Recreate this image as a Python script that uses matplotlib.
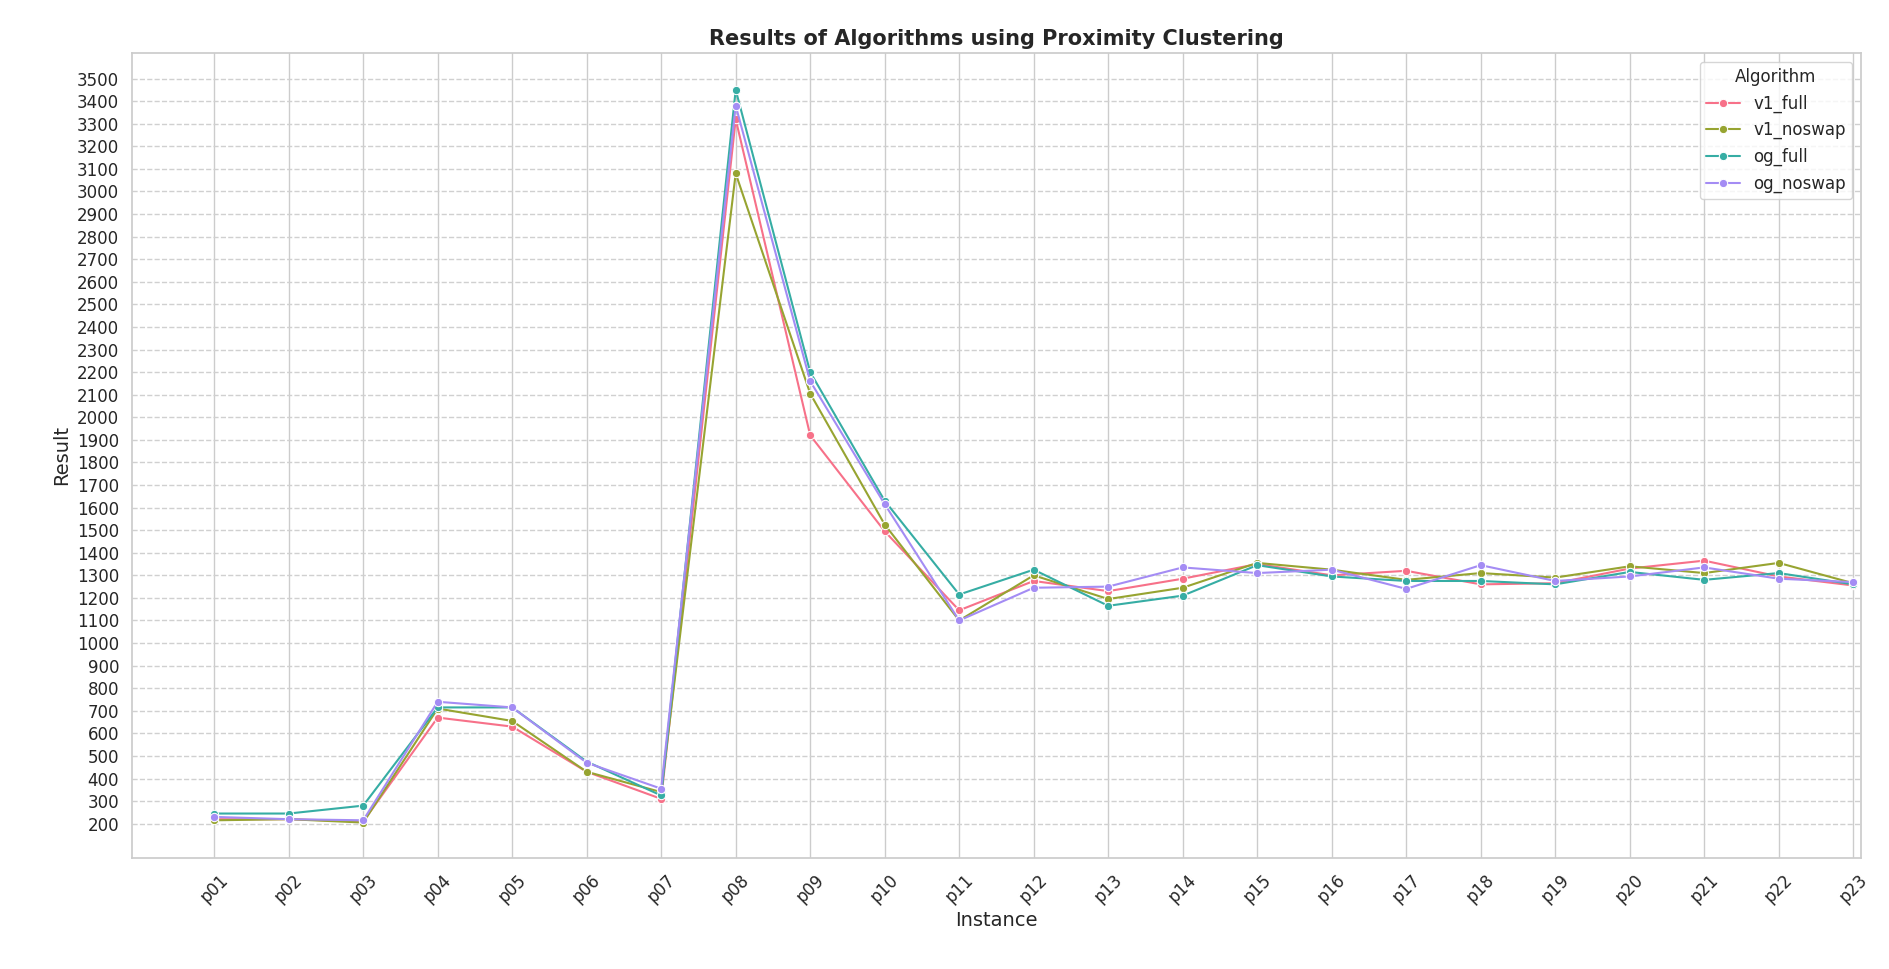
import numpy as np
import pandas as pd
import matplotlib
matplotlib.use("Agg")
import matplotlib.pyplot as plt
import seaborn as sns

instances = ["p%02d" % i for i in range(1, 24)]
v1_full = [220, 220, 210, 670, 630, 430, 310, 3320, 1920, 1495, 1145, 1275, 1230, 1285,
           1350, 1300, 1320, 1260, 1265, 1330, 1365, 1295, 1255]
v1_noswap = [215, 220, 205, 710, 655, 430, 340, 3080, 2105, 1525, 1100, 1300, 1195, 1245,
             1355, 1325, 1280, 1310, 1290, 1340, 1310, 1355, 1265]
og_full = [245, 245, 280, 715, 715, 475, 325, 3450, 2200, 1630, 1215, 1325, 1165, 1210,
           1345, 1295, 1275, 1275, 1260, 1315, 1280, 1310, 1260]
og_noswap = [230, 220, 215, 740, 715, 470, 355, 3380, 2160, 1615, 1100, 1245, 1250, 1335,
             1310, 1325, 1240, 1345, 1275, 1295, 1335, 1285, 1270]

series = {"v1_full": v1_full, "v1_noswap": v1_noswap, "og_full": og_full, "og_noswap": og_noswap}
df = pd.DataFrame([(inst, alg, val) for alg, vals in series.items() for inst, val in zip(instances, vals)],
                  columns=["Instance", "Algorithm", "Result"])

sns.set_theme(style="whitegrid")
fig, ax = plt.subplots(figsize=(18.89, 9.69), dpi=100)
sns.lineplot(data=df, x="Instance", y="Result", hue="Algorithm", marker="o",
             palette=sns.husl_palette(4), ax=ax)
ax.set_yticks(np.arange(200, 3501, 100))
ax.set_ylim(50, 3612)
ax.set_xlim(-1.1, 22.1)
ax.yaxis.grid(True, linestyle="--", color="#d0d0d0")
ax.tick_params(axis="x", rotation=45)
ax.tick_params(labelsize=12)
ax.set_xlabel("Instance", fontsize=14)
ax.set_ylabel("Result", fontsize=14)
ax.set_title("Results of Algorithms using Proximity Clustering", fontsize=15, fontweight="bold")
leg = ax.legend(title="Algorithm", loc="upper right", fontsize=12, title_fontsize=12)
plt.subplots_adjust(left=0.07, right=0.985, top=0.945, bottom=0.115)
plt.savefig("out.png")
